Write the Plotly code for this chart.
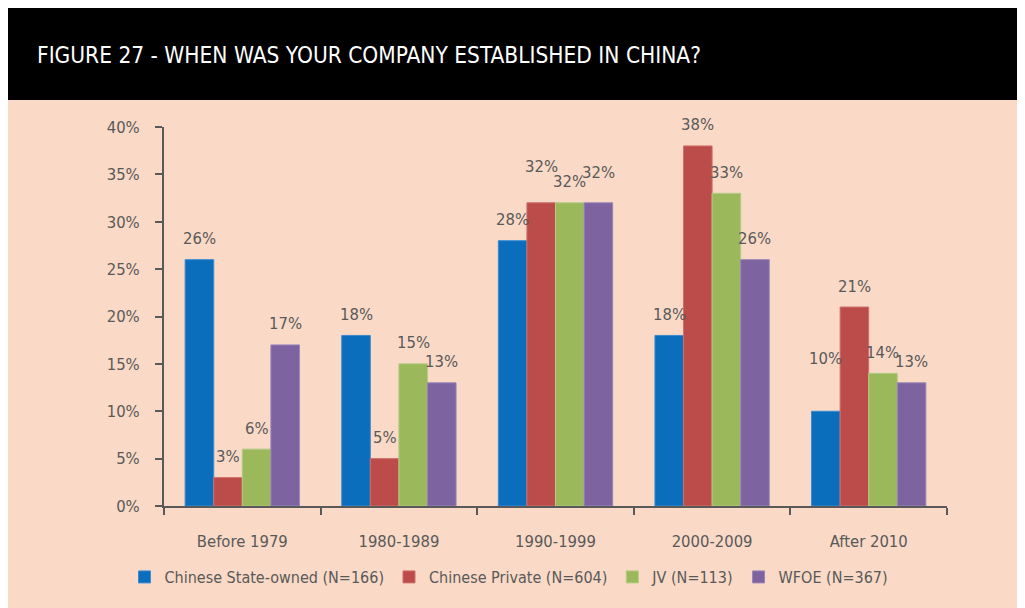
import plotly.graph_objects as go

categories = ["Before 1979", "1980-1989", "1990-1999", "2000-2009", "After 2010"]
series_names = ["Chinese State-owned (N=166)", "Chinese Private (N=604)", "JV (N=113)", "WFOE (N=367)"]
state_owned = [26, 18, 28, 18, 10]
private = [3, 5, 32, 38, 21]
jv = [6, 15, 32, 33, 14]
wfoe = [17, 13, 32, 26, 13]
y_ticks = [0, 5, 10, 15, 20, 25, 30, 35, 40]

series_values = [state_owned, private, jv, wfoe]
colors = ["#0A6EBD", "#BC4C49", "#9BB95B", "#7D63A0"]
edges = ["#3C8AD0", "#D0706C", "#B3CB84", "#9A86B8"]

# the page body adds an 8px margin, so the figure is 8px smaller and
# reference pixel positions are shifted by 8
OFF = 8
W, H = 1025 - OFF, 608 - OFF
FONT = "DejaVu Sans Condensed, Liberation Sans Narrow, Arial Narrow, sans-serif"
GREY = "#595959"
x0p, x1p = 164 - OFF, 947 - OFF
y_top, y_bot = 127 - OFF, 506 - OFF
bargap = 0.27


def px_x(p):
    return p / W


def px_y(p):
    return 1 - p / H


fig = go.Figure()
for name, vals, c, e in zip(series_names, series_values, colors, edges):
    fig.add_trace(go.Bar(x=categories, y=vals, name=name,
                         marker=dict(color=c, line=dict(color=e, width=1))))

# value labels (manual nudges where the original avoided overlaps)
extra = {(2, 1): 15, (2, 3): 9, (4, 0): 32}
cat_px = (x1p - x0p) / len(categories)
bar_px = cat_px * (1 - bargap) / 4
annotations = []
for si, vals in enumerate(series_values):
    for ci, v in enumerate(vals):
        annotations.append(dict(
            x=categories[ci], y=v, xref="x", yref="y",
            text=f"{v}%", showarrow=False,
            xshift=(si - 1.5) * bar_px, yshift=21 + extra.get((ci, si), 0),
            yanchor="middle", xanchor="center",
            font=dict(family=FONT, size=16.5, color=GREY)))

annotations.append(dict(
    x=px_x(35 - OFF), y=px_y(55 - OFF), xref="paper", yref="paper",
    text="FIGURE 27 - WHEN WAS YOUR COMPANY ESTABLISHED IN CHINA?",
    showarrow=False, xanchor="left", yanchor="middle",
    font=dict(family=FONT, size=22.5, color="white")))

shapes = [
    dict(type="rect", xref="paper", yref="paper", x0=0, x1=1, y0=0, y1=px_y(100 - OFF),
         fillcolor="#FAD9C7", line=dict(width=0), layer="below"),
    dict(type="rect", xref="paper", yref="paper", x0=0, x1=1, y0=px_y(100 - OFF), y1=1,
         fillcolor="black", line=dict(width=0), layer="below"),
]

fig.update_layout(
    width=W, height=H, autosize=False,
    margin=dict(l=0, r=0, t=0, b=0, pad=0, autoexpand=False),
    paper_bgcolor="white", plot_bgcolor="rgba(0,0,0,0)",
    barmode="group", bargap=bargap, bargroupgap=0,
    font=dict(family=FONT, size=16.5, color=GREY),
    shapes=shapes, annotations=annotations,
    showlegend=True,
    legend=dict(orientation="h", x=px_x(509 - OFF), xanchor="center", y=px_y(577 - OFF),
                yanchor="middle",
                font=dict(family=FONT, size=16, color=GREY), itemwidth=30,
                bgcolor="rgba(0,0,0,0)", traceorder="normal"),
    xaxis=dict(domain=[px_x(x0p), px_x(x1p)], showline=True, linecolor=GREY, linewidth=2,
               ticks="outside", tickson="boundaries", ticklen=7, tickwidth=2, tickcolor=GREY,
               ticklabelstandoff=19, tickfont=dict(family=FONT, size=16.5, color=GREY),
               showgrid=False, zeroline=False, fixedrange=True, automargin=False),
    yaxis=dict(domain=[px_y(y_bot), px_y(y_top)], range=[0, 40],
               tickvals=y_ticks, ticktext=[f"{t}%" for t in y_ticks],
               showline=True, linecolor=GREY, linewidth=2,
               ticks="outside", ticklen=7, tickwidth=2, tickcolor=GREY,
               ticklabelstandoff=12, tickfont=dict(family=FONT, size=16.5, color=GREY),
               showgrid=False, zeroline=False, fixedrange=True, automargin=False),
)

fig.write_html("out.html")
